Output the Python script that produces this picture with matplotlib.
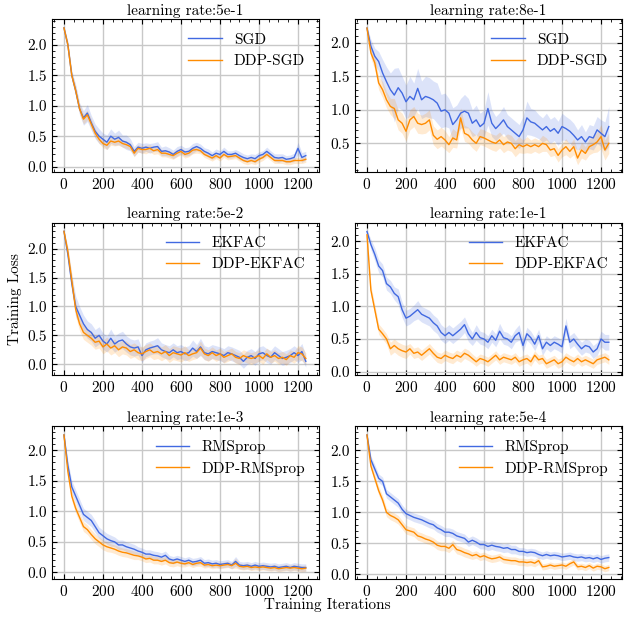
import numpy as np
import matplotlib
matplotlib.use("Agg")
import matplotlib.pyplot as plt
from matplotlib.ticker import MultipleLocator, FormatStrFormatter, AutoMinorLocator

plt.rcParams['font.family'] = 'serif'
plt.rcParams['font.serif'] = ['cmr10']
plt.rcParams['mathtext.fontset'] = 'cm'
plt.rcParams['axes.formatter.use_mathtext'] = True
plt.rcParams['font.size'] = 11

# iterations (every 20 steps)
iters = np.arange(0, 1241, 20)

# ---- row 1: SGD ----
sgd_5e1 = [2.28, 2.00, 1.50, 1.25, 0.95, 0.80, 0.88, 0.72, 0.58, 0.50, 0.45, 0.40, 0.50, 0.45, 0.48, 0.42,
           0.40, 0.36, 0.25, 0.32, 0.30, 0.32, 0.30, 0.32, 0.33, 0.25, 0.26, 0.24, 0.20, 0.25, 0.28, 0.24,
           0.25, 0.30, 0.33, 0.30, 0.25, 0.22, 0.18, 0.22, 0.20, 0.25, 0.20, 0.20, 0.22, 0.18, 0.15, 0.13,
           0.15, 0.13, 0.18, 0.20, 0.25, 0.20, 0.15, 0.14, 0.15, 0.12, 0.13, 0.15, 0.30, 0.15, 0.18]
ddp_sgd_5e1 = [2.28, 2.00, 1.50, 1.25, 0.95, 0.78, 0.85, 0.70, 0.55, 0.45, 0.38, 0.35, 0.42, 0.40, 0.42, 0.38,
               0.36, 0.33, 0.22, 0.30, 0.28, 0.28, 0.30, 0.26, 0.28, 0.22, 0.22, 0.20, 0.18, 0.22, 0.25, 0.20,
               0.22, 0.27, 0.28, 0.26, 0.20, 0.17, 0.14, 0.18, 0.14, 0.20, 0.16, 0.17, 0.18, 0.14, 0.10, 0.08,
               0.10, 0.08, 0.12, 0.15, 0.20, 0.15, 0.10, 0.10, 0.10, 0.08, 0.08, 0.10, 0.10, 0.10, 0.12]
sgd_5e1_sd = [0.03, 0.06, 0.08, 0.10, 0.10, 0.12, 0.14, 0.12, 0.12, 0.12, 0.10, 0.12, 0.12, 0.10, 0.12, 0.10,
              0.12, 0.10, 0.08, 0.08, 0.08, 0.07, 0.08, 0.07, 0.08, 0.07, 0.08, 0.07, 0.07, 0.08, 0.07, 0.07,
              0.07, 0.08, 0.07, 0.07, 0.06, 0.07, 0.06, 0.07, 0.06, 0.07, 0.06, 0.06, 0.06, 0.07, 0.06, 0.06,
              0.06, 0.07, 0.06, 0.06, 0.07, 0.06, 0.06, 0.07, 0.06, 0.06, 0.06, 0.07, 0.10, 0.08, 0.07]
ddp_sgd_5e1_sd = [0.03, 0.05, 0.06, 0.08, 0.08, 0.08, 0.08, 0.08, 0.07, 0.07, 0.07, 0.07, 0.07, 0.06, 0.07, 0.06,
                  0.06, 0.06, 0.06, 0.06, 0.06, 0.07, 0.06, 0.06, 0.07, 0.06, 0.06, 0.06, 0.06, 0.06, 0.06, 0.06,
                  0.06, 0.06, 0.06, 0.05, 0.05, 0.05, 0.05, 0.05, 0.05, 0.05, 0.05, 0.05, 0.05, 0.05, 0.05, 0.05,
                  0.05, 0.05, 0.05, 0.05, 0.05, 0.05, 0.05, 0.05, 0.05, 0.05, 0.05, 0.05, 0.05, 0.05, 0.05]

sgd_8e1 = [2.22, 1.95, 1.80, 1.72, 1.55, 1.42, 1.30, 1.22, 1.33, 1.25, 1.12, 1.20, 1.15, 1.32, 1.15, 1.20,
           1.18, 1.15, 1.10, 0.98, 1.00, 0.95, 0.78, 0.85, 0.95, 0.98, 0.95, 0.80, 0.85, 0.75, 0.80, 1.02,
           0.80, 0.72, 0.78, 0.85, 0.75, 0.70, 0.65, 0.60, 0.70, 0.88, 0.82, 0.80, 0.75, 0.70, 0.75, 0.68,
           0.72, 0.65, 0.75, 0.72, 0.68, 0.62, 0.55, 0.60, 0.52, 0.60, 0.58, 0.70, 0.65, 0.60, 0.75]
ddp_sgd_8e1 = [2.22, 1.85, 1.70, 1.40, 1.30, 1.15, 1.05, 1.02, 0.85, 0.80, 0.68, 0.85, 0.90, 0.80, 0.78, 0.80,
               0.85, 0.62, 0.56, 0.60, 0.55, 0.48, 0.58, 0.55, 0.88, 0.65, 0.62, 0.55, 0.50, 0.60, 0.58, 0.55,
               0.52, 0.50, 0.55, 0.48, 0.52, 0.50, 0.42, 0.48, 0.45, 0.48, 0.45, 0.48, 0.45, 0.50, 0.48, 0.40,
               0.42, 0.32, 0.40, 0.45, 0.38, 0.45, 0.28, 0.40, 0.35, 0.45, 0.48, 0.52, 0.60, 0.40, 0.50]
sgd_8e1_sd = [0.03, 0.10, 0.12, 0.15, 0.20, 0.22, 0.25, 0.40, 0.30, 0.25, 0.25, 0.30, 0.25, 0.30, 0.28, 0.30,
              0.30, 0.28, 0.30, 0.25, 0.25, 0.22, 0.25, 0.22, 0.22, 0.25, 0.22, 0.20, 0.22, 0.20, 0.20, 0.25,
              0.20, 0.18, 0.18, 0.20, 0.18, 0.18, 0.18, 0.18, 0.20, 0.25, 0.20, 0.20, 0.18, 0.18, 0.20, 0.18,
              0.18, 0.18, 0.20, 0.18, 0.18, 0.18, 0.15, 0.18, 0.15, 0.18, 0.18, 0.20, 0.20, 0.22, 0.30]
ddp_sgd_8e1_sd = [0.03, 0.08, 0.10, 0.10, 0.12, 0.12, 0.12, 0.15, 0.15, 0.15, 0.15, 0.15, 0.15, 0.15, 0.14, 0.15,
                  0.15, 0.14, 0.14, 0.14, 0.14, 0.12, 0.14, 0.12, 0.15, 0.12, 0.12, 0.12, 0.12, 0.12, 0.12, 0.12,
                  0.12, 0.12, 0.12, 0.12, 0.12, 0.12, 0.12, 0.12, 0.10, 0.12, 0.10, 0.10, 0.10, 0.12, 0.10, 0.10,
                  0.10, 0.10, 0.10, 0.12, 0.10, 0.12, 0.10, 0.12, 0.10, 0.12, 0.12, 0.15, 0.18, 0.15, 0.15]

# ---- row 2: EKFAC ----
ekfac_5e2 = [2.30, 1.90, 1.40, 1.00, 0.85, 0.70, 0.60, 0.55, 0.45, 0.50, 0.40, 0.35, 0.45, 0.35, 0.40, 0.42,
             0.35, 0.30, 0.28, 0.30, 0.15, 0.25, 0.28, 0.30, 0.32, 0.25, 0.22, 0.20, 0.25, 0.20, 0.22, 0.18,
             0.20, 0.28, 0.22, 0.30, 0.20, 0.18, 0.22, 0.20, 0.18, 0.15, 0.20, 0.18, 0.15, 0.12, 0.05, 0.12,
             0.15, 0.10, 0.18, 0.20, 0.15, 0.12, 0.20, 0.15, 0.10, 0.12, 0.15, 0.20, 0.15, 0.22, 0.05]
ddp_ekfac_5e2 = [2.30, 1.95, 1.45, 0.95, 0.70, 0.55, 0.50, 0.45, 0.38, 0.40, 0.30, 0.35, 0.28, 0.32, 0.25, 0.30,
                 0.28, 0.22, 0.25, 0.20, 0.18, 0.22, 0.25, 0.20, 0.22, 0.18, 0.22, 0.15, 0.20, 0.18, 0.16, 0.20,
                 0.15, 0.18, 0.20, 0.28, 0.18, 0.15, 0.20, 0.15, 0.18, 0.12, 0.15, 0.18, 0.12, 0.10, 0.15, 0.12,
                 0.10, 0.12, 0.15, 0.10, 0.18, 0.12, 0.15, 0.10, 0.12, 0.08, 0.15, 0.12, 0.20, 0.18, 0.10]
ekfac_5e2_sd = [0.03, 0.10, 0.15, 0.18, 0.15, 0.15, 0.15, 0.15, 0.15, 0.15, 0.14, 0.14, 0.16, 0.14, 0.14, 0.15,
                0.14, 0.14, 0.14, 0.14, 0.12, 0.12, 0.12, 0.12, 0.14, 0.12, 0.12, 0.12, 0.12, 0.12, 0.12, 0.12,
                0.12, 0.14, 0.12, 0.15, 0.12, 0.12, 0.12, 0.12, 0.12, 0.12, 0.12, 0.12, 0.12, 0.12, 0.12, 0.12,
                0.12, 0.12, 0.12, 0.12, 0.12, 0.12, 0.12, 0.12, 0.12, 0.12, 0.12, 0.12, 0.12, 0.14, 0.10]
ddp_ekfac_5e2_sd = [0.03, 0.08, 0.12, 0.12, 0.12, 0.12, 0.12, 0.12, 0.12, 0.12, 0.12, 0.12, 0.12, 0.12, 0.12, 0.12,
                    0.12, 0.12, 0.12, 0.12, 0.12, 0.12, 0.12, 0.12, 0.12, 0.12, 0.12, 0.12, 0.12, 0.12, 0.12, 0.12,
                    0.10, 0.10, 0.10, 0.12, 0.10, 0.10, 0.10, 0.10, 0.10, 0.10, 0.10, 0.10, 0.10, 0.10, 0.10, 0.10,
                    0.10, 0.10, 0.10, 0.10, 0.10, 0.10, 0.10, 0.10, 0.10, 0.10, 0.10, 0.10, 0.12, 0.12, 0.10]

ekfac_1e1 = [2.15, 1.95, 1.80, 1.62, 1.55, 1.35, 1.30, 1.20, 1.15, 0.95, 0.82, 0.85, 0.90, 0.95, 0.88, 0.85,
             0.82, 0.75, 0.70, 0.60, 0.55, 0.60, 0.55, 0.60, 0.65, 0.72, 0.58, 0.50, 0.60, 0.52, 0.50, 0.45,
             0.55, 0.48, 0.62, 0.52, 0.50, 0.45, 0.55, 0.60, 0.40, 0.58, 0.52, 0.42, 0.55, 0.35, 0.45, 0.40,
             0.45, 0.42, 0.38, 0.70, 0.45, 0.50, 0.42, 0.35, 0.40, 0.38, 0.30, 0.35, 0.50, 0.45, 0.45]
ddp_ekfac_1e1 = [2.10, 1.25, 0.95, 0.65, 0.58, 0.50, 0.35, 0.40, 0.35, 0.32, 0.30, 0.35, 0.28, 0.30, 0.25, 0.30,
                 0.35, 0.28, 0.22, 0.20, 0.25, 0.22, 0.20, 0.25, 0.22, 0.28, 0.25, 0.20, 0.15, 0.20, 0.18, 0.15,
                 0.20, 0.25, 0.18, 0.22, 0.20, 0.18, 0.22, 0.15, 0.18, 0.20, 0.15, 0.25, 0.18, 0.20, 0.12, 0.15,
                 0.18, 0.12, 0.15, 0.22, 0.18, 0.15, 0.20, 0.15, 0.18, 0.15, 0.12, 0.18, 0.20, 0.22, 0.18]
ekfac_1e1_sd = [0.03, 0.08, 0.10, 0.10, 0.10, 0.10, 0.10, 0.10, 0.12, 0.12, 0.12, 0.12, 0.12, 0.14, 0.12, 0.12,
                0.12, 0.12, 0.12, 0.12, 0.12, 0.12, 0.12, 0.12, 0.12, 0.12, 0.12, 0.10, 0.12, 0.10, 0.10, 0.10,
                0.10, 0.10, 0.12, 0.10, 0.10, 0.10, 0.10, 0.12, 0.10, 0.10, 0.10, 0.10, 0.10, 0.10, 0.10, 0.10,
                0.10, 0.10, 0.10, 0.12, 0.10, 0.10, 0.10, 0.10, 0.10, 0.10, 0.10, 0.10, 0.12, 0.12, 0.12]
ddp_ekfac_1e1_sd = [0.03, 0.08, 0.08, 0.08, 0.08, 0.08, 0.10, 0.10, 0.10, 0.10, 0.10, 0.08, 0.08, 0.08, 0.08, 0.08,
                    0.08, 0.08, 0.08, 0.08, 0.08, 0.08, 0.08, 0.08, 0.08, 0.08, 0.08, 0.07, 0.07, 0.07, 0.07, 0.07,
                    0.07, 0.07, 0.07, 0.07, 0.07, 0.07, 0.07, 0.07, 0.07, 0.07, 0.07, 0.07, 0.07, 0.07, 0.07, 0.07,
                    0.07, 0.07, 0.07, 0.07, 0.07, 0.07, 0.07, 0.07, 0.07, 0.07, 0.07, 0.07, 0.07, 0.07, 0.07]

# ---- row 3: RMSprop ----
rms_1e3 = [2.25, 1.75, 1.40, 1.25, 1.10, 0.95, 0.90, 0.85, 0.75, 0.65, 0.60, 0.55, 0.52, 0.50, 0.45, 0.45,
           0.42, 0.40, 0.38, 0.35, 0.33, 0.30, 0.30, 0.28, 0.27, 0.25, 0.28, 0.22, 0.20, 0.22, 0.20, 0.18,
           0.20, 0.17, 0.18, 0.20, 0.15, 0.16, 0.14, 0.15, 0.13, 0.14, 0.15, 0.12, 0.18, 0.12, 0.11, 0.12,
           0.10, 0.12, 0.10, 0.11, 0.10, 0.09, 0.10, 0.08, 0.09, 0.10, 0.08, 0.10, 0.09, 0.08, 0.08]
ddp_rms_1e3 = [2.25, 1.65, 1.25, 1.05, 0.90, 0.75, 0.70, 0.62, 0.55, 0.50, 0.45, 0.42, 0.40, 0.38, 0.35, 0.33,
               0.32, 0.30, 0.28, 0.27, 0.25, 0.22, 0.23, 0.20, 0.20, 0.18, 0.20, 0.16, 0.15, 0.17, 0.15, 0.14,
               0.16, 0.13, 0.15, 0.16, 0.12, 0.13, 0.11, 0.12, 0.11, 0.12, 0.13, 0.11, 0.15, 0.10, 0.09, 0.10,
               0.08, 0.09, 0.08, 0.09, 0.08, 0.07, 0.08, 0.06, 0.07, 0.08, 0.07, 0.08, 0.07, 0.06, 0.07]
rms_1e3_sd = [0.03, 0.08, 0.10, 0.10, 0.10, 0.10, 0.10, 0.10, 0.10, 0.09, 0.09, 0.09, 0.09, 0.08, 0.08, 0.08,
              0.08, 0.08, 0.08, 0.07, 0.07, 0.07, 0.07, 0.07, 0.07, 0.07, 0.07, 0.06, 0.06, 0.06, 0.06, 0.06,
              0.06, 0.06, 0.06, 0.06, 0.06, 0.06, 0.06, 0.06, 0.06, 0.06, 0.06, 0.06, 0.08, 0.06, 0.06, 0.06,
              0.06, 0.06, 0.06, 0.06, 0.06, 0.06, 0.06, 0.06, 0.06, 0.06, 0.06, 0.06, 0.06, 0.06, 0.06]
ddp_rms_1e3_sd = [0.03, 0.07, 0.08, 0.08, 0.08, 0.08, 0.08, 0.08, 0.08, 0.08, 0.08, 0.08, 0.07, 0.07, 0.07, 0.07,
                  0.07, 0.07, 0.07, 0.06, 0.06, 0.06, 0.06, 0.06, 0.06, 0.06, 0.06, 0.06, 0.06, 0.06, 0.06, 0.05,
                  0.05, 0.05, 0.05, 0.06, 0.05, 0.05, 0.05, 0.05, 0.05, 0.05, 0.05, 0.05, 0.08, 0.05, 0.05, 0.05,
                  0.05, 0.05, 0.05, 0.05, 0.05, 0.05, 0.05, 0.05, 0.05, 0.05, 0.05, 0.05, 0.05, 0.05, 0.05]

rms_5e4 = [2.25, 1.85, 1.70, 1.55, 1.50, 1.30, 1.25, 1.20, 1.15, 1.05, 0.98, 0.95, 0.92, 0.90, 0.88, 0.85,
           0.82, 0.80, 0.75, 0.72, 0.68, 0.68, 0.66, 0.62, 0.60, 0.58, 0.52, 0.55, 0.52, 0.48, 0.48, 0.45,
           0.47, 0.45, 0.44, 0.42, 0.43, 0.40, 0.40, 0.37, 0.37, 0.35, 0.36, 0.35, 0.32, 0.30, 0.32, 0.30,
           0.31, 0.30, 0.28, 0.29, 0.30, 0.28, 0.27, 0.28, 0.26, 0.27, 0.25, 0.27, 0.24, 0.26, 0.27]
ddp_rms_5e4 = [2.25, 1.75, 1.55, 1.35, 1.20, 1.00, 0.95, 0.92, 0.88, 0.80, 0.72, 0.70, 0.68, 0.62, 0.60, 0.57,
               0.55, 0.52, 0.47, 0.45, 0.45, 0.42, 0.48, 0.40, 0.38, 0.35, 0.33, 0.30, 0.32, 0.28, 0.30, 0.27,
               0.25, 0.26, 0.28, 0.24, 0.23, 0.22, 0.22, 0.20, 0.20, 0.19, 0.20, 0.18, 0.22, 0.12, 0.13, 0.15,
               0.13, 0.14, 0.15, 0.13, 0.17, 0.20, 0.12, 0.13, 0.11, 0.14, 0.10, 0.13, 0.12, 0.09, 0.11]
rms_5e4_sd = [0.03, 0.06, 0.07, 0.07, 0.07, 0.07, 0.07, 0.07, 0.07, 0.07, 0.07, 0.07, 0.07, 0.07, 0.07, 0.07,
              0.07, 0.07, 0.07, 0.07, 0.07, 0.07, 0.07, 0.07, 0.07, 0.07, 0.07, 0.07, 0.07, 0.07, 0.07, 0.07,
              0.07, 0.07, 0.07, 0.07, 0.07, 0.07, 0.07, 0.06, 0.06, 0.06, 0.06, 0.06, 0.06, 0.06, 0.06, 0.06,
              0.06, 0.06, 0.06, 0.06, 0.06, 0.06, 0.06, 0.06, 0.06, 0.06, 0.06, 0.06, 0.06, 0.06, 0.06]
ddp_rms_5e4_sd = [0.03, 0.06, 0.07, 0.07, 0.07, 0.07, 0.07, 0.07, 0.07, 0.07, 0.07, 0.07, 0.07, 0.07, 0.07, 0.07,
                  0.07, 0.07, 0.07, 0.07, 0.07, 0.07, 0.07, 0.07, 0.07, 0.07, 0.07, 0.06, 0.06, 0.06, 0.06, 0.06,
                  0.06, 0.06, 0.06, 0.06, 0.06, 0.06, 0.06, 0.06, 0.06, 0.06, 0.06, 0.06, 0.06, 0.05, 0.05, 0.05,
                  0.05, 0.05, 0.05, 0.05, 0.05, 0.05, 0.05, 0.05, 0.05, 0.05, 0.05, 0.05, 0.05, 0.05, 0.05]

titles = ["learning rate:5e-1", "learning rate:8e-1",
          "learning rate:5e-2", "learning rate:1e-1",
          "learning rate:1e-3", "learning rate:5e-4"]
labels = [("SGD", "DDP-SGD"), ("SGD", "DDP-SGD"),
          ("EKFAC", "DDP-EKFAC"), ("EKFAC", "DDP-EKFAC"),
          ("RMSprop", "DDP-RMSprop"), ("RMSprop", "DDP-RMSprop")]
curves = [(sgd_5e1, sgd_5e1_sd, ddp_sgd_5e1, ddp_sgd_5e1_sd),
          (sgd_8e1, sgd_8e1_sd, ddp_sgd_8e1, ddp_sgd_8e1_sd),
          (ekfac_5e2, ekfac_5e2_sd, ddp_ekfac_5e2, ddp_ekfac_5e2_sd),
          (ekfac_1e1, ekfac_1e1_sd, ddp_ekfac_1e1, ddp_ekfac_1e1_sd),
          (rms_1e3, rms_1e3_sd, ddp_rms_1e3, ddp_rms_1e3_sd),
          (rms_5e4, rms_5e4_sd, ddp_rms_5e4, ddp_rms_5e4_sd)]

blue = "#4169E1"
orange = "#FF8C00"

fig, axes = plt.subplots(3, 2, figsize=(6.25, 6.17), dpi=100)
fig.subplots_adjust(left=0.083, right=0.995, top=0.969, bottom=0.062, wspace=0.135, hspace=0.334)

for i, ax in enumerate(axes.flat):
    m1, s1, m2, s2 = [np.array(a) for a in curves[i]]
    ax.fill_between(iters, m1 - s1, m1 + s1, color=blue, alpha=0.18, lw=0)
    ax.fill_between(iters, m2 - s2, m2 + s2, color=orange, alpha=0.18, lw=0)
    ax.plot(iters, m1, color=blue, lw=1.0, label=labels[i][0])
    ax.plot(iters, m2, color=orange, lw=1.0, label=labels[i][1])
    ax.set_title(titles[i], fontsize=11, pad=3)
    ax.set_xlim(-62, 1307)
    ax.set_xticks(range(0, 1201, 200))
    ax.yaxis.set_major_locator(MultipleLocator(0.5))
    ax.yaxis.set_major_formatter(FormatStrFormatter('%.1f'))
    ax.xaxis.set_minor_locator(AutoMinorLocator(4))
    ax.yaxis.set_minor_locator(AutoMinorLocator(5))
    ax.tick_params(which='both', direction='in', top=True, right=True, labelsize=11)
    ax.tick_params(which='major', length=3.5)
    ax.tick_params(which='minor', length=2)
    ax.grid(True, which='major', color='#c8c8c8', lw=1.0)
    ax.set_axisbelow(True)
    ax.legend(loc='upper right', frameon=False, fontsize=11, handlelength=2.2)

axes[1, 0].set_ylabel("Training Loss", fontsize=11)
fig.text(327 / 625, 1 - 605 / 617, "Training Iterations", ha='center', va='center', fontsize=11)

fig.savefig("out.png", dpi=100)
